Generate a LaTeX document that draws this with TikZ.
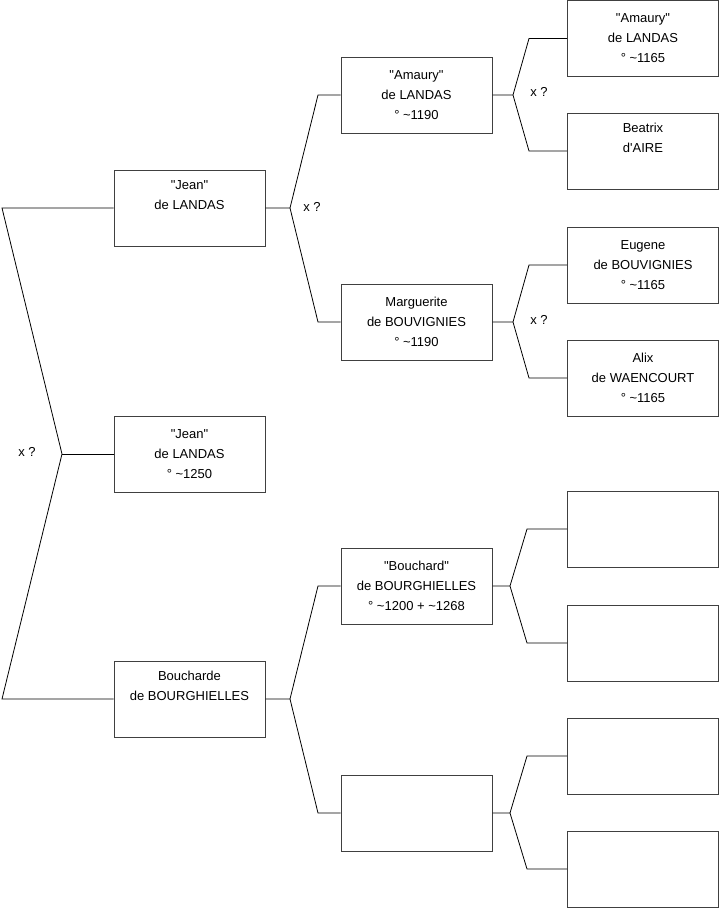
\documentclass[tikz,border=0pt]{standalone}
\usepackage{fontspec}
\newfontfamily\labfont{Liberation Sans}
\newcommand{\tl}{\textasciitilde}
\begin{document}
\begin{tikzpicture}[x=1pt,y=-1pt,
  person/.style={draw=black!75, line width=1pt, minimum width=151pt, minimum height=76pt,
    inner sep=0pt, align=center, font=\labfont\fontsize{13}{20}\selectfont},
  link/.style={line width=0.8pt, black},
  qx/.style={font=\labfont\fontsize{13}{16}\selectfont, inner sep=0pt}]
\useasboundingbox (0,0) rectangle (719,908);
% column 1
\node[person] (j1) at (189.5,208) {"Jean"\\de LANDAS\\\strut};
\node[person] (j0) at (189.5,454) {"Jean"\\de LANDAS\\° \tl1250};
\node[person] (b1) at (189.5,699) {Boucharde\\de BOURGHIELLES\\\strut};
% column 2
\node[person] (am) at (416.5,95) {"Amaury"\\de LANDAS\\° \tl1190};
\node[person] (ma) at (416.5,322) {Marguerite\\de BOUVIGNIES\\° \tl1190};
\node[person] (bo) at (416.5,586) {"Bouchard"\\de BOURGHIELLES\\° \tl1200 + \tl1268};
\node[person] (em) at (416.5,813) {};
% column 3
\node[person] (am2) at (643,38.5) {"Amaury"\\de LANDAS\\° \tl1165};
\node[person] (be) at (643,151) {Beatrix\\d'AIRE\\\strut};
\node[person] (eu) at (643,265) {Eugene\\de BOUVIGNIES\\° \tl1165};
\node[person] (al) at (643,378) {Alix\\de WAENCOURT\\° \tl1165};
\node[person] (e1) at (643,529) {};
\node[person] (e2) at (643,643) {};
\node[person] (e3) at (643,756) {};
\node[person] (e4) at (643,869) {};
% fork points
\coordinate (fa) at (2,208);
\coordinate (fb) at (2,699);
\coordinate (f0) at (62,454);
\coordinate (g1) at (290,208);
\coordinate (g1a) at (318,95);
\coordinate (g1b) at (318,322);
\coordinate (g2) at (290,699);
\coordinate (g2a) at (318,586);
\coordinate (g2b) at (318,813);
\coordinate (h1) at (513,95);
\coordinate (h1a) at (529,38.5);
\coordinate (h1b) at (529,151);
\coordinate (h2) at (513,322);
\coordinate (h2a) at (529,265);
\coordinate (h2b) at (529,378);
\coordinate (h3) at (510,586);
\coordinate (h3a) at (527,529);
\coordinate (h3b) at (527,643);
\coordinate (h4) at (510,813);
\coordinate (h4a) at (527,756);
\coordinate (h4b) at (527,869);
% connectors
\draw[link] (j1.west) -- (fa) -- (f0) -- (fb) -- (b1.west);
\draw[link] (f0) -- (j0.west);
\draw[link] (j1.east) -- (g1) -- (g1a) -- (am.west);
\draw[link] (g1) -- (g1b) -- (ma.west);
\draw[link] (b1.east) -- (g2) -- (g2a) -- (bo.west);
\draw[link] (g2) -- (g2b) -- (em.west);
\draw[link] (am.east) -- (h1) -- (h1a) -- (am2.west);
\draw[link] (h1) -- (h1b) -- (be.west);
\draw[link] (ma.east) -- (h2) -- (h2a) -- (eu.west);
\draw[link] (h2) -- (h2b) -- (al.west);
\draw[link] (bo.east) -- (h3) -- (h3a) -- (e1.west);
\draw[link] (h3) -- (h3b) -- (e2.west);
\draw[link] (em.east) -- (h4) -- (h4a) -- (e3.west);
\draw[link] (h4) -- (h4b) -- (e4.west);
% labels
\node[qx] (x0) at (27,452) {x ?};
\node[qx] (x1) at (312,207) {x ?};
\node[qx] (x2) at (539,92) {x ?};
\node[qx] (x3) at (539,320) {x ?};
\end{tikzpicture}
\end{document}
